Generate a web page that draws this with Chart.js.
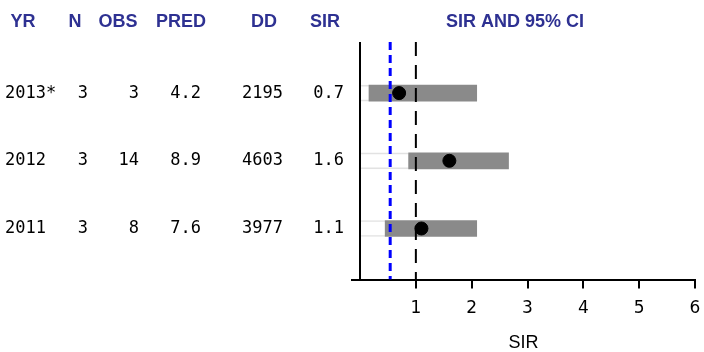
<!DOCTYPE html>
<html>
<head>
<meta charset="utf-8">
<script src="https://cdn.jsdelivr.net/npm/chart.js@4/dist/chart.umd.min.js"></script>
<style>
  body { margin: 0; background: #fff; }
</style>
</head>
<body>
<canvas id="myChart" width="704" height="352"></canvas>
<script>
// table columns
const years = ["2013*", "2012", "2011"];
const nVals = [3, 3, 3];
const obsVals = [3, 14, 8];
const predVals = ["4.2", "8.9", "7.6"];
const ddVals = [2195, 4603, 3977];
const sirVals = [0.7, 1.6, 1.1];
// 95% CI bounds
const ciLow = [0.16, 0.87, 0.45];
const ciHigh = [2.09, 2.66, 2.09];
// reference lines
const refLine = 1;
const meanLine = 0.54;
const xTicks = [0, 1, 2, 3, 4, 5, 6];

const yMin = 0.245;
const yMax = 3.755;
const rowPos = years.map((y, i) => i + 1);

const headColor = "#2e3192";
const headFont = 'bold 18px "Liberation Sans", Arial, sans-serif';
const cellFont = '17px "DejaVu Sans Mono", monospace';

const tablePlugin = {
  id: "table",
  afterDraw(chart) {
    const c = chart.ctx;
    const yScale = chart.scales.y;
    c.save();
    c.font = headFont;
    c.fillStyle = headColor;
    c.textBaseline = "middle";
    c.textAlign = "center";
    const heads = [["YR", 23], ["N", 75], ["OBS", 118], ["PRED", 181], ["DD", 264], ["SIR", 325], ["SIR AND 95% CI", 515]];
    heads.forEach(h => c.fillText(h[0], h[1], 22));

    c.font = cellFont;
    c.fillStyle = "#000";
    years.forEach((yr, i) => {
      const py = yScale.getPixelForValue(rowPos[i]);
      c.textAlign = "left";
      c.fillText(yr, 5, py);
      c.textAlign = "right";
      c.fillText(String(nVals[i]), 88, py);
      c.fillText(String(obsVals[i]), 139, py);
      c.fillText(predVals[i], 201, py);
      c.fillText(String(ddVals[i]), 283, py);
      c.fillText(sirVals[i].toFixed(1), 344, py);
    });
    c.restore();
  }
};

const ctx = document.getElementById("myChart");
const config = {
  type: "bar",
  data: {
    datasets: [
      {
        type: "scatter",
        data: sirVals.map((v, i) => ({ x: v, y: rowPos[i] })),
        backgroundColor: "#000",
        borderColor: "#000",
        pointRadius: 6.5,
        order: 0,
      },
      {
        type: "line",
        data: [{ x: meanLine, y: yMin }, { x: meanLine, y: yMax }],
        borderColor: "#0000ff",
        borderWidth: 3,
        borderDash: [8, 5],
        pointRadius: 0,
        fill: false,
        order: 1,
      },
      {
        type: "line",
        data: [{ x: refLine, y: yMin }, { x: refLine, y: yMax }],
        borderColor: "#000",
        borderWidth: 2,
        borderDash: [14, 9],
        pointRadius: 0,
        fill: false,
        order: 1,
      },
      {
        type: "bar",
        data: ciLow.map((v, i) => ({ x: [v, ciHigh[i]], y: rowPos[i] })),
        backgroundColor: "#8a8a8a",
        barThickness: 16,
        grouped: false,
        order: 2,
      },
      {
        type: "bar",
        data: ciLow.map((v, i) => ({ x: [0, v], y: rowPos[i] })),
        backgroundColor: "rgba(0,0,0,0)",
        borderColor: "#e2e2e2",
        borderWidth: { top: 1, bottom: 1, left: 0, right: 0 },
        borderSkipped: false,
        barThickness: 16,
        grouped: false,
        order: 3,
      },
    ],
  },
  options: {
    responsive: false,
    animation: false,
    indexAxis: "y",
    layout: { padding: { left: 352, top: 42, right: 9, bottom: 0 } },
    plugins: {
      legend: { display: false },
      tooltip: { enabled: false },
    },
    scales: {
      x: {
        type: "linear",
        min: -0.144,
        max: 6,
        offset: false,
        afterBuildTicks: (scale) => {
          scale.ticks = xTicks.map(v => ({ value: v }));
        },
        afterFit: (scale) => {
          // keep label overhang from shrinking the plot
          scale.paddingLeft = 0;
          scale.paddingRight = 5;
        },
        ticks: {
          color: "#000",
          font: { family: '"DejaVu Sans", Verdana, sans-serif', size: 17 },
          padding: 10,
          maxRotation: 0,
          callback: (v) => (v === 0 ? "" : v),
        },
        grid: {
          offset: false,
          color: (c) => (c.tick && c.tick.value === 0 ? "#000" : "rgba(0,0,0,0)"),
          tickColor: (c) => (c.tick && c.tick.value === 0 ? "rgba(0,0,0,0)" : "#000"),
          lineWidth: 2,
          tickLength: 9,
        },
        border: { color: "#000", width: 2 },
        title: {
          display: true,
          text: "SIR",
          color: "#000",
          font: { family: '"Liberation Sans", Arial, sans-serif', size: 18, lineHeight: 1 },
          padding: { top: 5, bottom: 0 },
        },
      },
      y: {
        type: "linear",
        reverse: true,
        min: yMin,
        max: yMax,
        offset: false,
        display: false,
      },
    },
  },
  plugins: [tablePlugin],
};
myChart = new Chart(ctx, config);
</script>
</body>
</html>
